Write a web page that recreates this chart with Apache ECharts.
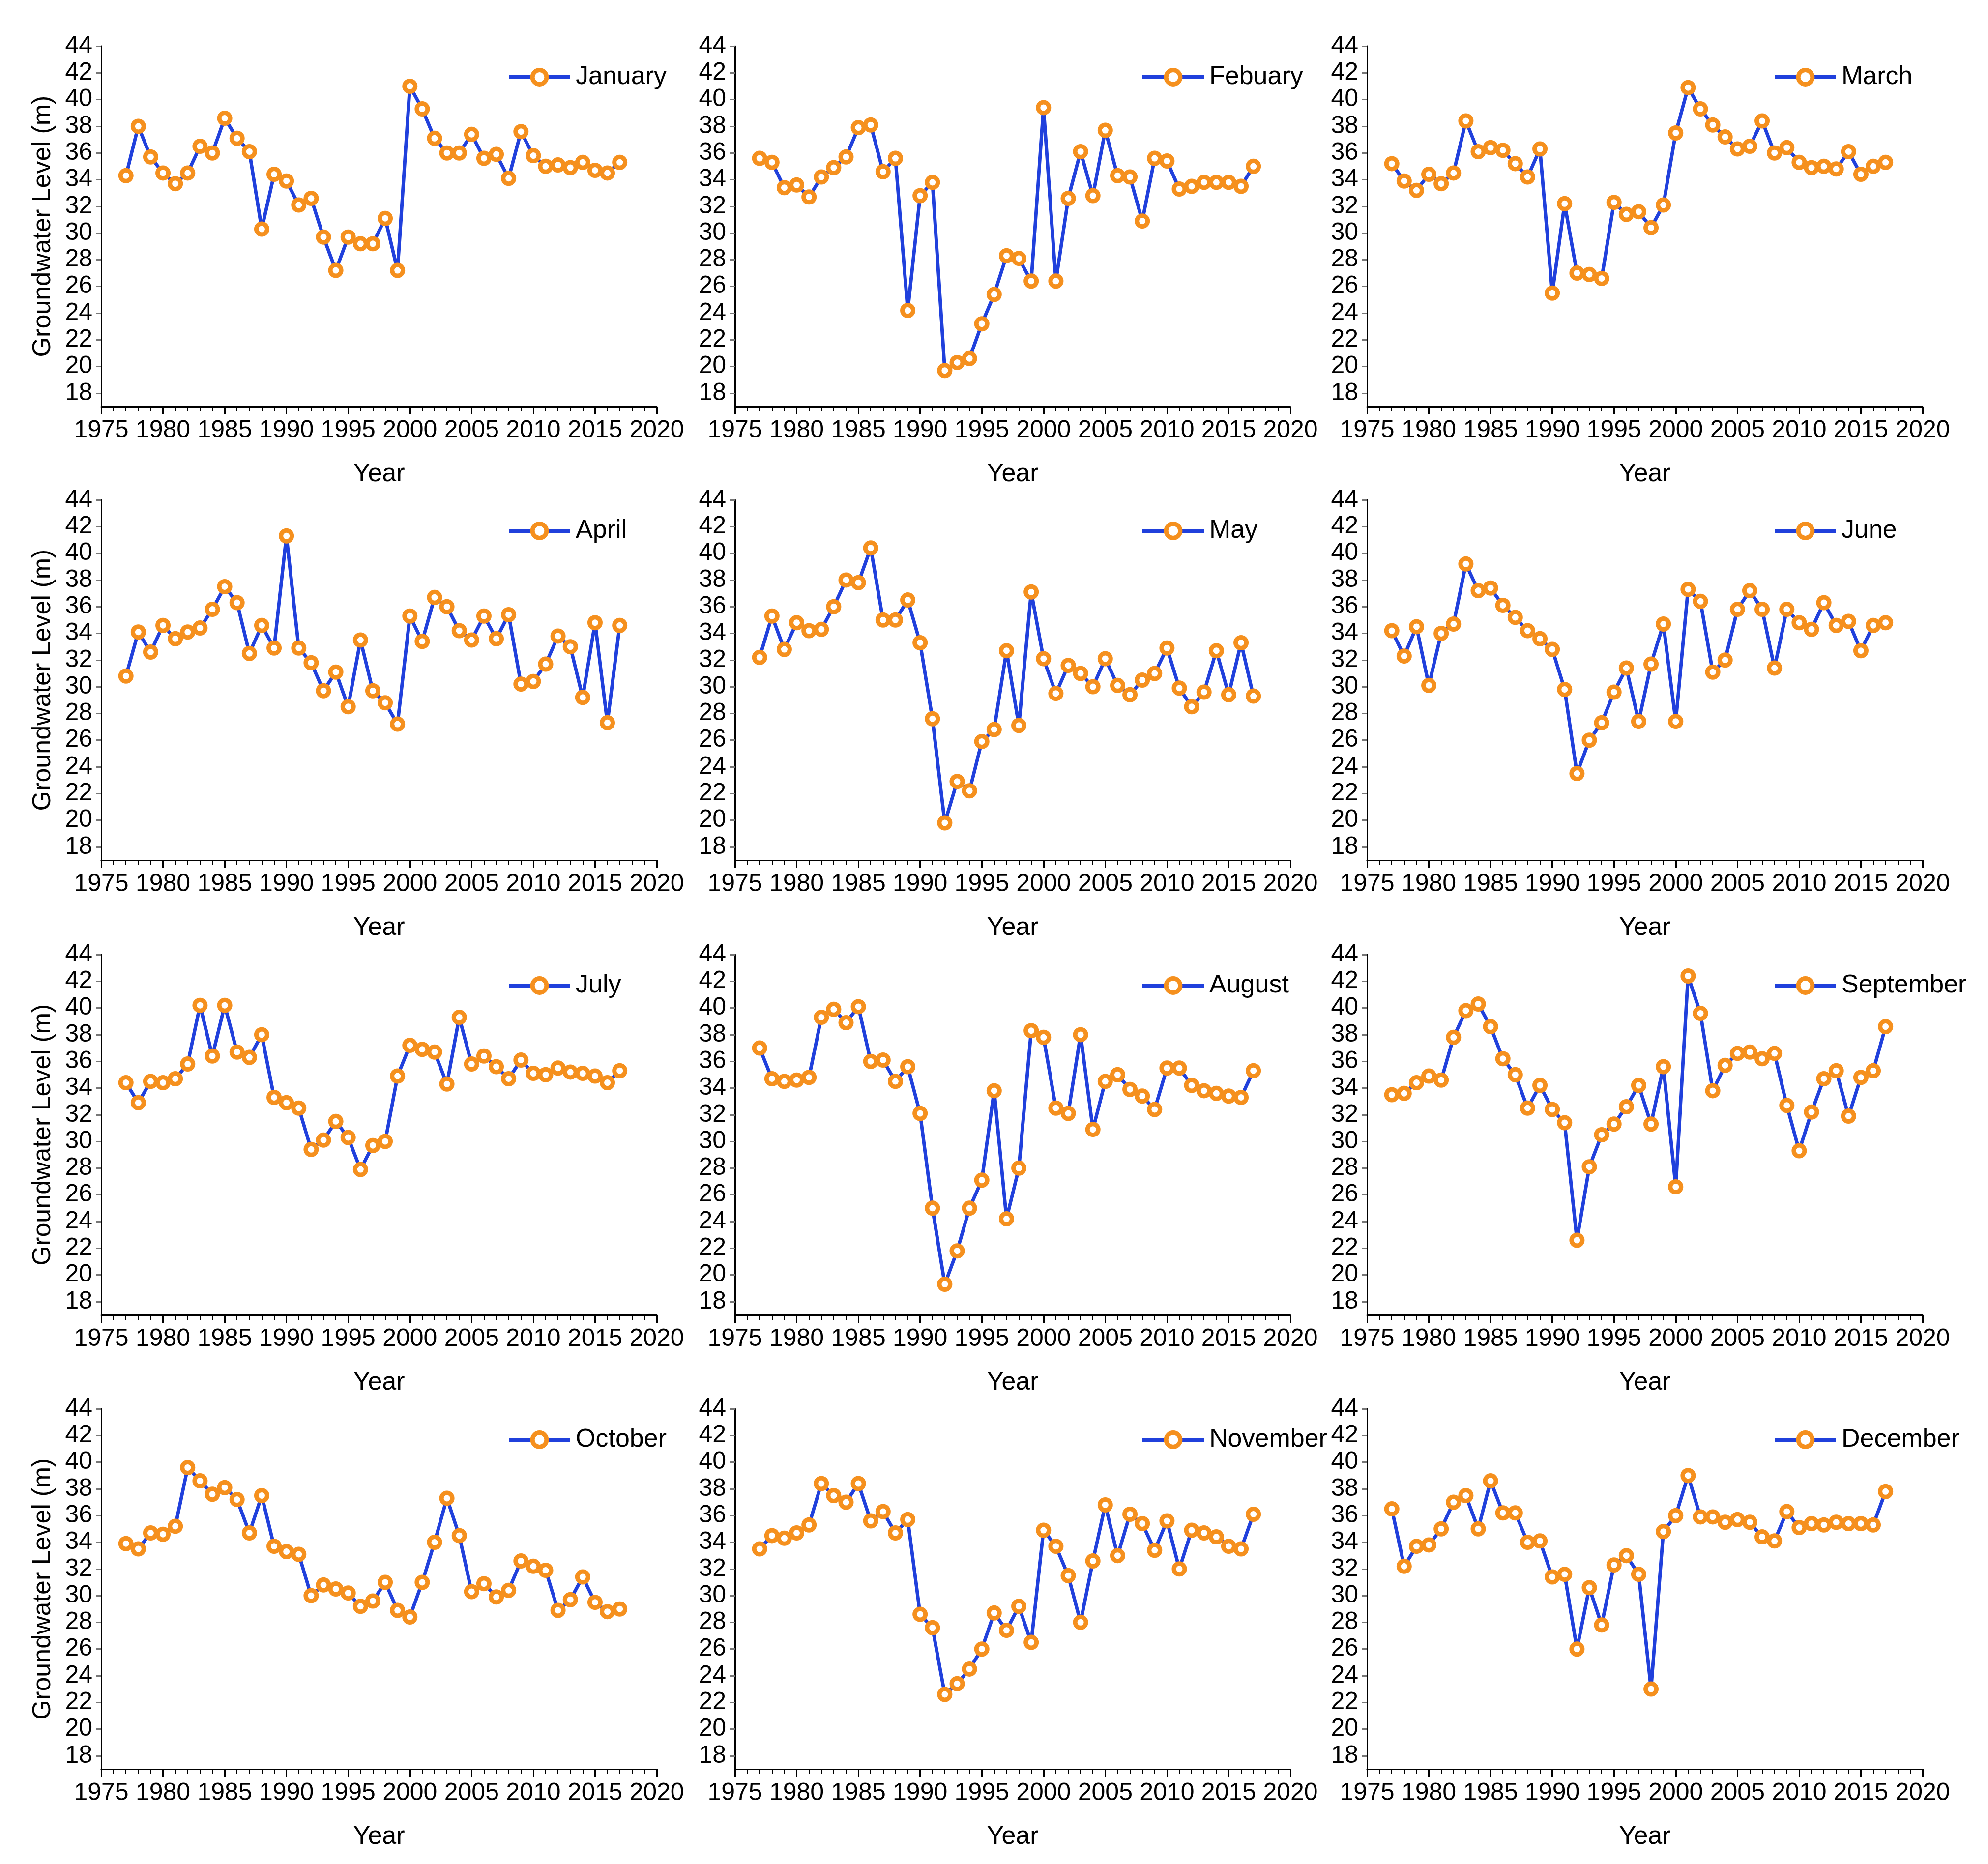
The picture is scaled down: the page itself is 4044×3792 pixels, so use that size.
<!DOCTYPE html>
<html>
<head>
<meta charset="utf-8">
<script src="https://cdn.jsdelivr.net/npm/echarts@6/dist/echarts.min.js"></script>
<style>
html,body{margin:0;padding:0;background:#fff;}
#c{width:4044px;height:3792px;}
</style>
</head>
<body>
<div id="c"></div>
<script>
const years = [1977,1978,1979,1980,1981,1982,1983,1984,1985,1986,1987,1988,1989,1990,1991,1992,1993,1994,1995,1996,1997,1998,1999,2000,2001,2002,2003,2004,2005,2006,2007,2008,2009,2010,2011,2012,2013,2014,2015,2016,2017];
const monthNames = ['January','Febuary','March','April','May','June','July','August','September','October','November','December'];
const yTicks = [18,20,22,24,26,28,30,32,34,36,38,40,42,44];

const jan = [34.3,38.0,35.7,34.5,33.7,34.5,36.5,36.0,38.6,37.1, 36.1,30.3,34.4,33.9,32.1,32.6,29.7,27.2,29.7,29.2, 29.2,31.1,27.2,41.0,39.3,37.1,36.0,36.0,37.4,35.6, 35.9,34.1,37.6,35.8,35.0,35.1,34.9,35.3,34.7,34.5, 35.3];
const feb = [35.6,35.3,33.4,33.6,32.7,34.2,34.9,35.7,37.9,38.1, 34.6,35.6,24.2,32.8,33.8,19.7,20.3,20.6,23.2,25.4, 28.3,28.1,26.4,39.4,26.4,32.6,36.1,32.8,37.7,34.3, 34.2,30.9,35.6,35.4,33.3,33.5,33.8,33.8,33.8,33.5, 35.0];
const mar = [35.2,33.9,33.2,34.4,33.7,34.5,38.4,36.1,36.4,36.2, 35.2,34.2,36.3,25.5,32.2,27.0,26.9,26.6,32.3,31.4, 31.6,30.4,32.1,37.5,40.9,39.3,38.1,37.2,36.3,36.5, 38.4,36.0,36.4,35.3,34.9,35.0,34.8,36.1,34.4,35.0, 35.3];
const apr = [30.8,34.1,32.6,34.6,33.6,34.1,34.4,35.8,37.5,36.3, 32.5,34.6,32.9,41.3,32.9,31.8,29.7,31.1,28.5,33.5, 29.7,28.8,27.2,35.3,33.4,36.7,36.0,34.2,33.5,35.3, 33.6,35.4,30.2,30.4,31.7,33.8,33.0,29.2,34.8,27.3, 34.6];
const may = [32.2,35.3,32.8,34.8,34.2,34.3,36.0,38.0,37.8,40.4, 35.0,35.0,36.5,33.3,27.6,19.8,22.9,22.2,25.9,26.8, 32.7,27.1,37.1,32.1,29.5,31.6,31.0,30.0,32.1,30.1, 29.4,30.5,31.0,32.9,29.9,28.5,29.6,32.7,29.4,33.3, 29.3];
const jun = [34.2,32.3,34.5,30.1,34.0,34.7,39.2,37.2,37.4,36.1, 35.2,34.2,33.6,32.8,29.8,23.5,26.0,27.3,29.6,31.4, 27.4,31.7,34.7,27.4,37.3,36.4,31.1,32.0,35.8,37.2, 35.8,31.4,35.8,34.8,34.3,36.3,34.6,34.9,32.7,34.6, 34.8];
const jul = [34.4,32.9,34.5,34.4,34.7,35.8,40.2,36.4,40.2,36.7, 36.3,38.0,33.3,32.9,32.5,29.4,30.1,31.5,30.3,27.9, 29.7,30.0,34.9,37.2,36.9,36.7,34.3,39.3,35.8,36.4, 35.6,34.7,36.1,35.1,35.0,35.5,35.2,35.1,34.9,34.4, 35.3];
const aug = [37.0,34.7,34.5,34.6,34.8,39.3,39.9,38.9,40.1,36.0, 36.1,34.5,35.6,32.1,25.0,19.3,21.8,25.0,27.1,33.8, 24.2,28.0,38.3,37.8,32.5,32.1,38.0,30.9,34.5,35.0, 33.9,33.4,32.4,35.5,35.5,34.2,33.8,33.6,33.4,33.3, 35.3];
const sep = [33.5,33.6,34.4,34.9,34.6,37.8,39.8,40.3,38.6,36.2, 35.0,32.5,34.2,32.4,31.4,22.6,28.1,30.5,31.3,32.6, 34.2,31.3,35.6,26.6,42.4,39.6,33.8,35.7,36.6,36.7, 36.2,36.6,32.7,29.3,32.2,34.7,35.3,31.9,34.8,35.3, 38.6];
const oct = [33.9,33.5,34.7,34.6,35.2,39.6,38.6,37.6,38.1,37.2, 34.7,37.5,33.7,33.3,33.1,30.0,30.8,30.5,30.2,29.2, 29.6,31.0,28.9,28.4,31.0,34.0,37.3,34.5,30.3,30.9, 29.9,30.4,32.6,32.2,31.9,28.9,29.7,31.4,29.5,28.8, 29.0];
const nov = [33.5,34.5,34.3,34.7,35.3,38.4,37.5,37.0,38.4,35.6, 36.3,34.7,35.7,28.6,27.6,22.6,23.4,24.5,26.0,28.7, 27.4,29.2,26.5,34.9,33.7,31.5,28.0,32.6,36.8,33.0, 36.1,35.4,33.4,35.6,32.0,34.9,34.7,34.4,33.7,33.5, 36.1];
const dec = [36.5,32.2,33.7,33.8,35.0,37.0,37.5,35.0,38.6,36.2, 36.2,34.0,34.1,31.4,31.6,26.0,30.6,27.8,32.3,33.0, 31.6,23.0,34.8,36.0,39.0,35.9,35.9,35.5,35.7,35.5, 34.4,34.1,36.3,35.1,35.4,35.3,35.5,35.4,35.4,35.3, 37.8];

const monthData = [jan,feb,mar,apr,may,jun,jul,aug,sep,oct,nov,dec];

const FONT = '"Liberation Sans", Arial, sans-serif';
const colLeft = [206, 1495, 2781];
const rowTop = [94, 1017, 1942, 2866];
const gridW = 1130, gridH = 733;
const LINE = '#2040DC', MARK = '#F5901E';

const grids = [], xAxes = [], yAxes = [], series = [], legends = [];
monthData.forEach((vals, i) => {
  const r = Math.floor(i / 3), c = i % 3;
  const gl = colLeft[c], gt = rowTop[r];
  grids.push({left: gl, top: gt, width: gridW, height: gridH, containLabel: false});
  xAxes.push({
    type: 'value', gridIndex: i, min: 1975, max: 2020, interval: 5,
    name: 'Year', nameLocation: 'middle', nameGap: 112,
    nameTextStyle: {fontSize: 52, fontFamily: FONT, color: '#000'},
    axisLine: {show: true, onZero: false, lineStyle: {color: '#000', width: 3}},
    axisTick: {show: true, length: 16, lineStyle: {color: '#000', width: 3}},
    minorTick: {show: true, splitNumber: 5, length: 10, lineStyle: {color: '#000', width: 2}},
    splitLine: {show: false},
    axisLabel: {fontSize: 50, fontFamily: FONT, color: '#000', margin: 24, formatter: v => String(v)}
  });
  yAxes.push({
    type: 'value', gridIndex: i, min: 17, max: 44,
    name: c === 0 ? 'Groundwater Level (m)' : '', nameLocation: 'middle', nameGap: 92,
    nameTextStyle: {fontSize: 52, fontFamily: FONT, color: '#000'},
    axisLine: {show: true, onZero: false, lineStyle: {color: '#000', width: 3}},
    axisTick: {show: true, length: 10, customValues: yTicks, lineStyle: {color: '#777', width: 3}},
    splitLine: {show: false},
    axisLabel: {fontSize: 50, fontFamily: FONT, color: '#000', margin: 18, customValues: yTicks, formatter: v => String(v)}
  });
  series.push({
    name: monthNames[i], type: 'line', xAxisIndex: i, yAxisIndex: i,
    data: years.map((y, k) => [y, vals[k]]),
    symbol: 'circle', symbolSize: 22, showAllSymbol: true,
    lineStyle: {color: LINE, width: 7},
    itemStyle: {color: '#fff', borderColor: MARK, borderWidth: 9},
    emphasis: {disabled: true}, animation: false
  });
  legends.push({
    data: [monthNames[i]], left: gl + 825, top: gt + 37, padding: 0,
    itemWidth: 125, itemHeight: 36,
    lineStyle: {color: LINE, width: 8},
    itemStyle: {color: '#fff', borderColor: MARK, borderWidth: 9},
    textStyle: {fontSize: 52, fontFamily: FONT, color: '#000', padding: [0, 0, 0, 6]},
    selectedMode: false
  });
});

const chart = echarts.init(document.getElementById('c'), null, {renderer: 'canvas'});
chart.setOption({
  backgroundColor: '#fff',
  animation: false,
  grid: grids, xAxis: xAxes, yAxis: yAxes, series: series, legend: legends
});
</script>
</body>
</html>
